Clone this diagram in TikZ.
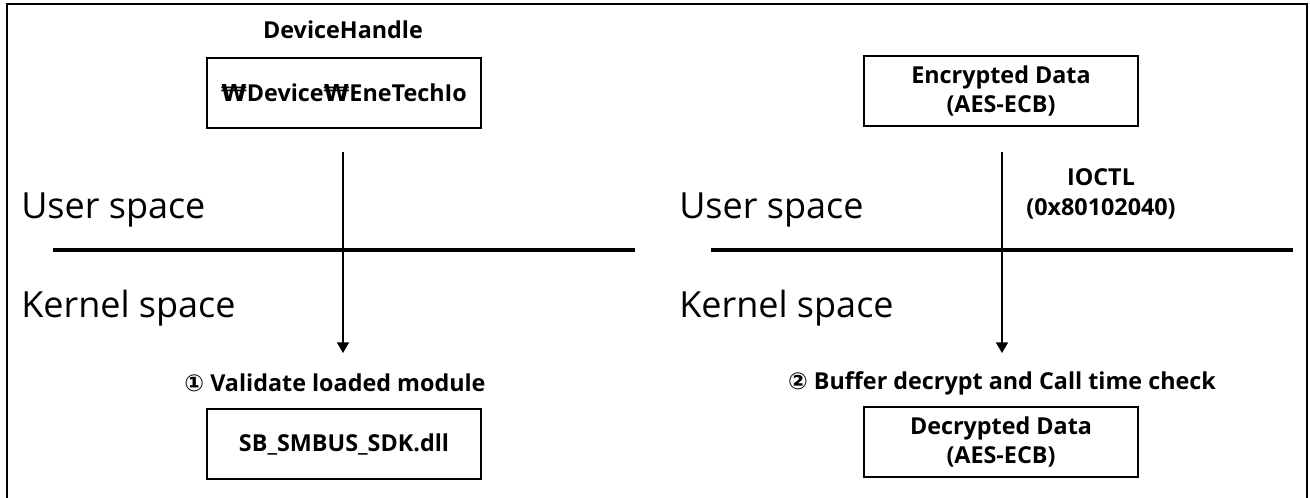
\documentclass[tikz,border=0pt]{standalone}
\usepackage{fontspec}
\setmainfont{Open Sans}
\newfontfamily\symfont{DejaVu Sans}
\usetikzlibrary{arrows.meta}

\begin{document}
\begin{tikzpicture}[x=0.75pt, y=-0.75pt,
    box/.style={draw, line width=1.4pt, minimum width=206pt, minimum height=52.5pt,
      align=center, font=\bfseries\fontsize{17.5}{22}\selectfont},
    lbl/.style={align=center, font=\bfseries\fontsize{17.5}{22}\selectfont},
    spacelbl/.style={anchor=west, inner sep=0pt, font=\fontsize{27}{32}\selectfont},
    border/.style={line width=3.6pt},
    flow/.style={line width=1.2pt, -{Triangle[width=9pt, length=8pt]}}]

    \useasboundingbox (0,0) rectangle (1310,497);

    % Cornice
    \draw[line width=1.6pt] (7,498) -- (7,4) -- (1307,4) -- (1307,498);

    % Lato sinistro
    \node[lbl] (hdlname) at (343,30) {DeviceHandle};
    \node[box] (hdl) at (344,93) {{\symfont\bfseries ₩}Device{\symfont\bfseries ₩}EneTechIo};
    \node[spacelbl] (user1) at (21,210) {User space};
    \node[spacelbl] (kern1) at (21,308) {Kernel space};
    \draw[border] (53,250) -- (635,250);
    \node[lbl] (val) at (335,383) {{\symfont ①} Validate loaded module};
    \node[box] (sdk) at (344,444) {SB\_SMBUS\_SDK.dll};

    % Lato destro
    \node[box] (enc) at (1001,91) {Encrypted Data\\(AES-ECB)};
    \node[spacelbl] (user2) at (679,210) {User space};
    \node[spacelbl] (kern2) at (679,308) {Kernel space};
    \draw[border] (711,250) -- (1293,250);
    \node[lbl] (ioctl) at (1101,194) {IOCTL\\(0x80102040)};
    \node[lbl] (dcr) at (1002,383) {{\symfont ②} Buffer decrypt and Call time check};
    \node[box] (dec) at (1001,442) {Decrypted Data\\(AES-ECB)};

    % Frecce
    \coordinate (top1) at (343,152);
    \coordinate (tip1) at (343,353);
    \coordinate (top2) at (1002,152);
    \coordinate (tip2) at (1002,353);
    \draw[flow] (top1) -- (tip1);
    \draw[flow] (top2) -- (tip2);

\end{tikzpicture}
\end{document}
